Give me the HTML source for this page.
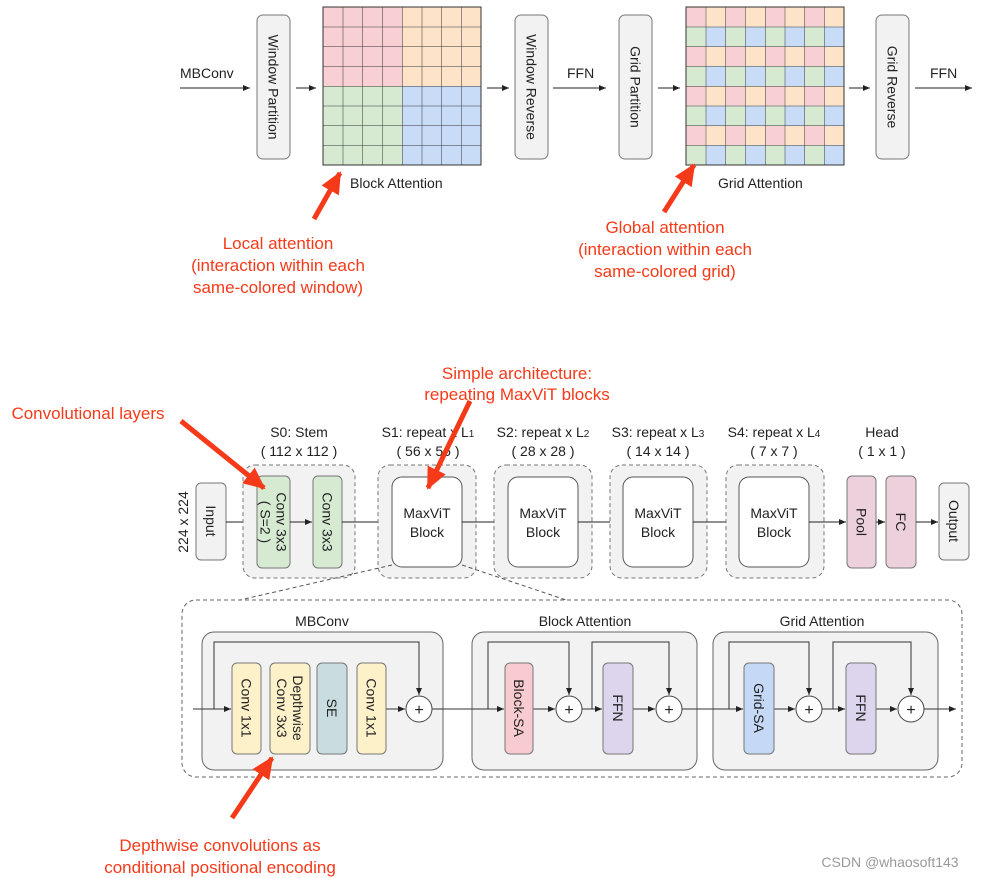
<!DOCTYPE html>
<html><head><meta charset="utf-8"><style>
html,body{margin:0;padding:0;background:#fff;}
svg{display:block;font-family:"Liberation Sans",Arial,sans-serif;}
</style></head><body>
<svg width="985" height="878" viewBox="0 0 985 878" xmlns="http://www.w3.org/2000/svg">
<defs>
<marker id="a" markerWidth="8" markerHeight="8" refX="7" refY="3" orient="auto" markerUnits="userSpaceOnUse"><path d="M0,0 L7,3 L0,6 z" fill="#222"/></marker>
<marker id="r" markerWidth="24" markerHeight="24" refX="20" refY="10" orient="auto" markerUnits="userSpaceOnUse"><path d="M0,0 L22,10 L0,20 z" fill="#f53a1a"/></marker>
<pattern id="gp" x="686" y="7" width="39.5" height="39.5" patternUnits="userSpaceOnUse">
<rect x="0" y="0" width="19.75" height="19.75" fill="#f8cfd3"/><rect x="19.75" y="0" width="19.75" height="19.75" fill="#fde3c8"/>
<rect x="0" y="19.75" width="19.75" height="19.75" fill="#d5ead1"/><rect x="19.75" y="19.75" width="19.75" height="19.75" fill="#c9dcf7"/>
</pattern>
<pattern id="gl1" x="323" y="7" width="19.75" height="19.75" patternUnits="userSpaceOnUse">
<path d="M0,0 H19.75 M0,0 V19.75" stroke="#333" stroke-width="1" fill="none"/></pattern>
<pattern id="gl2" x="686" y="7" width="19.75" height="19.75" patternUnits="userSpaceOnUse">
<path d="M0,0 H19.75 M0,0 V19.75" stroke="#333" stroke-width="1" fill="none"/></pattern>
</defs>
<g font-size="14" fill="#222">
<text x="180" y="78">MBConv</text>
<line x1="180" y1="88" x2="250" y2="88" stroke="#222" marker-end="url(#a)"/>
<rect x="257" y="15" width="33" height="144" rx="6" fill="#f2f2f2" stroke="#777"/>
<text transform="rotate(90,273.5,87)" x="273.5" y="92" text-anchor="middle">Window Partition</text>
<line x1="296" y1="88" x2="316" y2="88" stroke="#222" marker-end="url(#a)"/>
<rect x="323" y="7" width="79" height="79" fill="#f8cfd3"/><rect x="402" y="7" width="79" height="79" fill="#fde3c8"/>
<rect x="323" y="86" width="79" height="79" fill="#d5ead1"/><rect x="402" y="86" width="79" height="79" fill="#c9dcf7"/>
<rect x="323" y="7" width="158" height="158" fill="url(#gl1)" stroke="#333"/>
<text x="350" y="188">Block Attention</text>
<line x1="487" y1="88" x2="509" y2="88" stroke="#222" marker-end="url(#a)"/>
<rect x="515" y="15" width="33" height="144" rx="6" fill="#f2f2f2" stroke="#777"/>
<text transform="rotate(90,531.5,87)" x="531.5" y="92" text-anchor="middle">Window Reverse</text>
<text x="567" y="78">FFN</text>
<line x1="553" y1="88" x2="606" y2="88" stroke="#222" marker-end="url(#a)"/>
<rect x="619" y="15" width="33" height="144" rx="6" fill="#f2f2f2" stroke="#777"/>
<text transform="rotate(90,635.5,87)" x="635.5" y="92" text-anchor="middle">Grid Partition</text>
<line x1="658" y1="88" x2="680" y2="88" stroke="#222" marker-end="url(#a)"/>
<rect x="686" y="7" width="158" height="158" fill="url(#gp)"/>
<rect x="686" y="7" width="158" height="158" fill="url(#gl2)" stroke="#333"/>
<text x="718" y="188">Grid Attention</text>
<line x1="849" y1="88" x2="870" y2="88" stroke="#222" marker-end="url(#a)"/>
<rect x="876" y="15" width="33" height="144" rx="6" fill="#f2f2f2" stroke="#777"/>
<text transform="rotate(90,892.5,87)" x="892.5" y="92" text-anchor="middle">Grid Reverse</text>
<text x="930" y="78">FFN</text>
<line x1="915" y1="88" x2="972" y2="88" stroke="#222" marker-end="url(#a)"/>
</g>
<g fill="#f53a1a" font-size="17" text-anchor="middle">
<line x1="314" y1="219" x2="340" y2="173" stroke="#f53a1a" stroke-width="5" marker-end="url(#r)"/>
<text x="278" y="249">Local attention</text><text x="278" y="271">(interaction within each</text><text x="278" y="293">same-colored window)</text>
<line x1="664" y1="212" x2="694" y2="165" stroke="#f53a1a" stroke-width="5" marker-end="url(#r)"/>
<text x="665" y="233">Global attention</text><text x="665" y="255">(interaction within each</text><text x="665" y="277">same-colored grid)</text>
<text x="517" y="379">Simple architecture:</text><text x="517" y="400">repeating MaxViT blocks</text>
<text x="88" y="419">Convolutional layers</text>
<text x="220" y="851">Depthwise convolutions as</text><text x="220" y="873">conditional positional encoding</text>
</g>
<g font-size="14" fill="#222" text-anchor="middle">
<text x="299" y="437">S0: Stem</text><text x="299" y="456">( 112 x 112 )</text>
<text x="428" y="437">S1: repeat x L<tspan font-size="10">1</tspan></text><text x="428" y="456">( 56 x 56 )</text>
<text x="543" y="437">S2: repeat x L<tspan font-size="10">2</tspan></text><text x="543" y="456">( 28 x 28 )</text>
<text x="658" y="437">S3: repeat x L<tspan font-size="10">3</tspan></text><text x="658" y="456">( 14 x 14 )</text>
<text x="774" y="437">S4: repeat x L<tspan font-size="10">4</tspan></text><text x="774" y="456">( 7 x 7 )</text>
<text x="882" y="437">Head</text><text x="882" y="456">( 1 x 1 )</text>
<text transform="rotate(-90,183,522)" x="183" y="527">224 x 224</text>
<rect x="196" y="483" width="30" height="77" rx="5" fill="#f2f2f2" stroke="#777"/>
<text transform="rotate(90,211,521)" x="211" y="526">Input</text>
<line x1="226" y1="522" x2="254" y2="522" stroke="#222" marker-end="url(#a)"/>
<rect x="243" y="465" width="112" height="113" rx="12" fill="#f2f2f2" stroke="#777" stroke-dasharray="4,3"/>
<rect x="257" y="476" width="33" height="92" rx="5" fill="#d5ead1" stroke="#777"/>
<text transform="rotate(90,273.5,522)" x="273.5" y="519">Conv 3x3</text>
<text transform="rotate(90,273.5,522)" x="273.5" y="535">( S=2 )</text>
<line x1="290" y1="522" x2="312" y2="522" stroke="#222" marker-end="url(#a)"/>
<rect x="313" y="476" width="29" height="92" rx="5" fill="#d5ead1" stroke="#777"/>
<text transform="rotate(90,327.5,522)" x="327.5" y="527">Conv 3x3</text>
<line x1="342" y1="522" x2="390" y2="522" stroke="#222" marker-end="url(#a)"/>
<rect x="378" y="465" width="98" height="113" rx="12" fill="#f2f2f2" stroke="#777" stroke-dasharray="4,3"/>
<rect x="392" y="477" width="70" height="90" rx="10" fill="#fff" stroke="#555"/>
<text x="427" y="518">MaxViT</text><text x="427" y="537">Block</text>
<line x1="462" y1="522" x2="506" y2="522" stroke="#222" marker-end="url(#a)"/>
<rect x="494" y="465" width="98" height="113" rx="12" fill="#f2f2f2" stroke="#777" stroke-dasharray="4,3"/>
<rect x="508" y="477" width="70" height="90" rx="10" fill="#fff" stroke="#555"/>
<text x="543" y="518">MaxViT</text><text x="543" y="537">Block</text>
<line x1="578" y1="522" x2="622" y2="522" stroke="#222" marker-end="url(#a)"/>
<rect x="610" y="465" width="97" height="113" rx="12" fill="#f2f2f2" stroke="#777" stroke-dasharray="4,3"/>
<rect x="623" y="477" width="70" height="90" rx="10" fill="#fff" stroke="#555"/>
<text x="658" y="518">MaxViT</text><text x="658" y="537">Block</text>
<line x1="693" y1="522" x2="738" y2="522" stroke="#222" marker-end="url(#a)"/>
<rect x="726" y="465" width="98" height="113" rx="12" fill="#f2f2f2" stroke="#777" stroke-dasharray="4,3"/>
<rect x="739" y="477" width="70" height="90" rx="10" fill="#fff" stroke="#555"/>
<text x="774" y="518">MaxViT</text><text x="774" y="537">Block</text>
<line x1="809" y1="522" x2="846" y2="522" stroke="#222" marker-end="url(#a)"/>
<rect x="847" y="476" width="29" height="92" rx="5" fill="#ecd0dc" stroke="#777"/>
<text transform="rotate(90,861.5,522)" x="861.5" y="527">Pool</text>
<line x1="876" y1="522" x2="885" y2="522" stroke="#222" marker-end="url(#a)"/>
<rect x="886" y="476" width="30" height="92" rx="5" fill="#ecd0dc" stroke="#777"/>
<text transform="rotate(90,901,522)" x="901" y="527">FC</text>
<line x1="916" y1="522" x2="938" y2="522" stroke="#222" marker-end="url(#a)"/>
<rect x="939" y="483" width="30" height="77" rx="5" fill="#f2f2f2" stroke="#777"/>
<text transform="rotate(90,954,521)" x="954" y="526">Output</text>
<line x1="392" y1="565" x2="240" y2="600" stroke="#555" stroke-dasharray="4,3"/>
<line x1="462" y1="565" x2="575" y2="603" stroke="#555" stroke-dasharray="4,3"/>
<rect x="182" y="600" width="780" height="177" rx="14" fill="#fff" stroke="#666" stroke-dasharray="4,3"/>
<text x="322" y="626">MBConv</text><text x="585" y="626">Block Attention</text><text x="822" y="626">Grid Attention</text>
<rect x="202" y="632" width="241" height="138" rx="12" fill="#f2f2f2" stroke="#666"/>
<rect x="472" y="632" width="225" height="138" rx="12" fill="#f2f2f2" stroke="#666"/>
<rect x="713" y="632" width="225" height="138" rx="12" fill="#f2f2f2" stroke="#666"/>
<g stroke="#333" fill="none">
<line x1="193" y1="709" x2="231" y2="709" marker-end="url(#a)"/>
<path d="M214,709 V642 H419 V695" marker-end="url(#a)"/>
<line x1="386" y1="709" x2="405" y2="709" marker-end="url(#a)"/>
<line x1="432" y1="709" x2="504" y2="709" marker-end="url(#a)"/>
<path d="M488,709 V642 H569 V695" marker-end="url(#a)"/>
<line x1="533" y1="709" x2="555" y2="709" marker-end="url(#a)"/>
<line x1="582" y1="709" x2="602" y2="709" marker-end="url(#a)"/>
<path d="M592,709 V642 H669 V695" marker-end="url(#a)"/>
<line x1="633" y1="709" x2="655" y2="709" marker-end="url(#a)"/>
<line x1="682" y1="709" x2="743" y2="709" marker-end="url(#a)"/>
<path d="M729,709 V642 H809 V695" marker-end="url(#a)"/>
<line x1="774" y1="709" x2="795" y2="709" marker-end="url(#a)"/>
<line x1="822" y1="709" x2="845" y2="709" marker-end="url(#a)"/>
<path d="M833,709 V642 H911 V695" marker-end="url(#a)"/>
<line x1="876" y1="709" x2="897" y2="709" marker-end="url(#a)"/>
<line x1="924" y1="709" x2="956" y2="709" marker-end="url(#a)"/>
</g>
<rect x="232" y="663" width="29" height="91" rx="5" fill="#fdf1c9" stroke="#777"/>
<text transform="rotate(90,246.5,708)" x="246.5" y="713">Conv 1x1</text>
<rect x="270" y="663" width="40" height="91" rx="5" fill="#fdf1c9" stroke="#777"/>
<text transform="rotate(90,290,708)" x="290" y="705">Depthwise</text>
<text transform="rotate(90,290,708)" x="290" y="721">Conv 3x3</text>
<rect x="317" y="663" width="30" height="91" rx="5" fill="#c9dde0" stroke="#777"/>
<text transform="rotate(90,332,708)" x="332" y="713">SE</text>
<rect x="357" y="663" width="29" height="91" rx="5" fill="#fdf1c9" stroke="#777"/>
<text transform="rotate(90,371.5,708)" x="371.5" y="713">Conv 1x1</text>
<rect x="505" y="663" width="28" height="91" rx="5" fill="#f8cbd0" stroke="#777"/>
<text transform="rotate(90,519,708)" x="519" y="713">Block-SA</text>
<rect x="603" y="663" width="30" height="91" rx="5" fill="#ddd5ee" stroke="#777"/>
<text transform="rotate(90,618,708)" x="618" y="713">FFN</text>
<rect x="744" y="663" width="30" height="91" rx="5" fill="#c5d8f5" stroke="#777"/>
<text transform="rotate(90,759,708)" x="759" y="713">Grid-SA</text>
<rect x="846" y="663" width="30" height="91" rx="5" fill="#ddd5ee" stroke="#777"/>
<text transform="rotate(90,861,708)" x="861" y="713">FFN</text>
<g fill="#fff" stroke="#444">
<circle cx="419" cy="709" r="13"/><circle cx="569" cy="709" r="13"/><circle cx="669" cy="709" r="13"/><circle cx="809" cy="709" r="13"/><circle cx="911" cy="709" r="13"/>
</g>
<g font-size="16"><text x="419" y="715">+</text><text x="569" y="715">+</text><text x="669" y="715">+</text><text x="809" y="715">+</text><text x="911" y="715">+</text></g>
<text x="890" y="867" fill="#999" font-size="14">CSDN @whaosoft143</text>
</g>
<g stroke="#f53a1a" stroke-width="5">
<line x1="470" y1="401" x2="428" y2="488" marker-end="url(#r)"/>
<line x1="181" y1="421" x2="264" y2="488" marker-end="url(#r)"/>
<line x1="232" y1="818" x2="272" y2="758" marker-end="url(#r)"/>
</g>
</svg>
</body></html>
